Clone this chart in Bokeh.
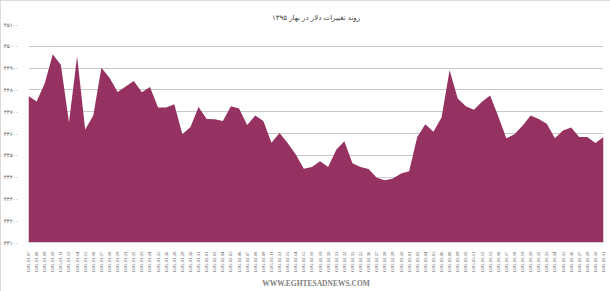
from bokeh.plotting import figure
from bokeh.models import Range1d, FixedTicker, Title
from bokeh.embed import file_html
from bokeh.resources import INLINE
import math

title_text = "روند تغییرات دلار در بهار ۱۳۹۵"
watermark = "WWW.EGHTESADNEWS.COM"

dates = [
    "1395.01.07", "1395.01.08", "1395.01.09", "1395.01.10", "1395.01.11", "1395.01.12",
    "1395.01.14", "1395.01.15", "1395.01.16", "1395.01.17", "1395.01.18", "1395.01.19",
    "1395.01.21", "1395.01.22", "1395.01.23", "1395.01.24", "1395.01.25", "1395.01.26",
    "1395.01.28", "1395.01.29", "1395.01.30", "1395.01.31",
    "1395.02.01", "1395.02.02", "1395.02.04", "1395.02.05", "1395.02.06", "1395.02.07",
    "1395.02.08", "1395.02.09", "1395.02.11", "1395.02.12", "1395.02.13", "1395.02.14",
    "1395.02.15", "1395.02.18", "1395.02.19", "1395.02.20", "1395.02.21", "1395.02.22",
    "1395.02.23", "1395.02.25", "1395.02.26", "1395.02.27", "1395.02.28", "1395.02.29",
    "1395.02.30",
    "1395.03.01", "1395.03.03", "1395.03.04", "1395.03.05", "1395.03.06", "1395.03.08",
    "1395.03.09", "1395.03.10", "1395.03.11", "1395.03.12", "1395.03.13", "1395.03.16",
    "1395.03.17", "1395.03.18", "1395.03.19", "1395.03.20", "1395.03.22", "1395.03.23",
    "1395.03.24", "1395.03.25", "1395.03.26", "1395.03.27", "1395.03.29", "1395.03.30",
    "1395.03.31",
]

dollar = [
    34772, 34747, 34829, 34963, 34914, 34650, 34954, 34618, 34682, 34902,
    34856, 34790, 34816, 34841, 34789, 34813, 34719, 34719, 34734, 34596,
    34630, 34721, 34666, 34665, 34657, 34725, 34715, 34639, 34682, 34657,
    34558, 34602, 34556, 34504, 34438, 34446, 34473, 34446, 34526, 34564,
    34464, 34446, 34437, 34397, 34385, 34394, 34416, 34427, 34584, 34642,
    34608, 34673, 34890, 34761, 34725, 34709, 34746, 34774, 34679, 34578,
    34596, 34636, 34682, 34666, 34645, 34578, 34614, 34627, 34584, 34584,
    34556, 34584,
]

y_ticks = [34100, 34200, 34300, 34400, 34500, 34600, 34700, 34800, 34900, 35000, 35100]


def to_fa(n):
    return str(n).translate(str.maketrans("0123456789", "۰۱۲۳۴۵۶۷۸۹"))


idx = list(range(len(dates)))

p = figure(
    width=610, height=291,
    output_backend="svg", toolbar_location=None,
    x_range=Range1d(0, len(dates) - 1),
    y_range=Range1d(y_ticks[0], y_ticks[-1]),
    min_border_left=25, min_border_right=7,
    min_border_top=24, min_border_bottom=49,
    background_fill_color="white", border_fill_color="white",
    styles={"outline": "1px solid #d0d0d0", "outline-offset": "-1px"},
)
p.outline_line_color = None

p.title = Title(text=title_text, align="center", offset=-9,
                text_font="DejaVu Sans", text_font_size="7px",
                text_font_style="normal", text_color="#404040",
                standoff=6)

p.varea(x=idx, y1=y_ticks[0], y2=dollar, fill_color="#963262")

# y axis
p.yaxis.ticker = FixedTicker(ticks=y_ticks)
p.yaxis.major_label_overrides = {t: to_fa(t) for t in y_ticks}
p.yaxis.axis_line_color = None
p.yaxis.major_tick_line_color = None
p.yaxis.minor_tick_line_color = None
p.yaxis.major_label_standoff = 4
p.yaxis.major_label_text_font = "DejaVu Sans"
p.yaxis.major_label_text_font_size = "5.5px"
p.yaxis.major_label_text_color = "#595959"

p.ygrid.ticker = FixedTicker(ticks=y_ticks)
p.ygrid.grid_line_color = "#c8c8c8"
p.ygrid.grid_line_width = 1
p.xgrid.grid_line_color = None

# x axis
p.xaxis.ticker = FixedTicker(ticks=idx)
p.xaxis.major_label_overrides = {i: d for i, d in zip(idx, dates)}
p.xaxis.major_label_orientation = math.pi / 2
p.xaxis.axis_line_color = "#d0d0d0"
p.xaxis.major_tick_line_color = None
p.xaxis.minor_tick_line_color = None
p.xaxis.major_label_standoff = 3
p.xaxis.major_label_text_font = "Liberation Serif"
p.xaxis.major_label_text_font_size = "4.8px"
p.xaxis.major_label_text_color = "#595959"

p.add_layout(Title(text=watermark, align="center",
                   text_font="Liberation Serif", text_font_size="7.5px",
                   text_font_style="bold", text_color="#7f7f7f", standoff=0),
             "below")

open("out.html", "w").write(file_html(p, INLINE))
